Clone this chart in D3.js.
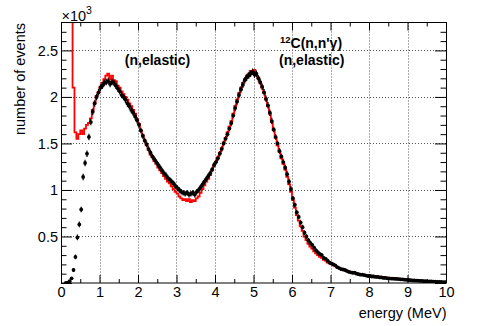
<!DOCTYPE html>
<html><head><meta charset="utf-8">
<script src="https://cdn.jsdelivr.net/npm/d3@7/dist/d3.min.js"></script>
<style>
html,body{margin:0;padding:0;background:#fff;}
svg{display:block;font-family:"Liberation Sans",Arial,Helvetica,sans-serif;}
</style></head>
<body>
<svg id="c" width="483" height="326"></svg>
<script>
// bin layout: 200 bins of 0.05 MeV from 0 to 10 MeV
const binWidth = 0.05;
const binStart = 0;
// data (black points, thousands of events)
const dataValues = [
 null,null,0.0,0.005,0.02,0.05,0.14,0.28,0.49,0.63,
 0.79,1.14,1.29,1.39,1.57,1.73,1.84,1.93,2.00,2.05,
 2.10,2.12,2.15,2.16,2.17,2.14,2.16,2.15,2.12,2.09,
 2.06,2.02,2.00,1.97,1.93,1.90,1.86,1.83,1.79,1.75,
 1.70,1.64,1.58,1.53,1.49,1.44,1.40,1.36,1.33,1.30,
 1.27,1.24,1.21,1.18,1.16,1.13,1.11,1.09,1.07,1.04,
 1.02,1.00,0.98,0.97,0.96,0.97,0.95,0.96,0.97,0.95,
 0.98,1.00,1.03,1.06,1.09,1.12,1.15,1.18,1.22,1.27,
 1.30,1.34,1.39,1.44,1.50,1.55,1.60,1.66,1.72,1.80,
 1.88,1.95,2.02,2.08,2.13,2.18,2.21,2.23,2.25,2.27,
 2.24,2.25,2.20,2.16,2.11,2.05,1.98,1.91,1.83,1.74,
 1.65,1.57,1.50,1.42,1.36,1.30,1.24,1.17,1.09,1.01,
 0.91,0.84,0.76,0.71,0.65,0.60,0.54,0.50,0.46,0.43,
 0.41,0.38,0.35,0.33,0.31,0.30,0.27,0.26,0.24,0.22,
 0.21,0.20,0.19,0.17,0.16,0.15,0.145,0.14,0.13,0.12,
 0.115,0.11,0.11,0.10,0.095,0.09,0.09,0.085,0.08,0.075,
 0.075,0.07,0.07,0.065,0.065,0.06,0.06,0.055,0.055,0.05,
 0.05,0.048,0.046,0.045,0.044,0.042,0.04,0.038,0.036,0.034,
 0.032,0.03,0.028,0.027,0.026,0.025,0.023,0.022,0.02,0.02,
 0.018,0.017,0.016,0.015,0.014,0.013,0.012,0.011,0.01,0.01
];
const dataErrors = [
 null,null,0.004,0.006,0.01,0.015,0.02,0.025,0.03,0.03,
 0.03,0.035,0.035,0.035,0.035,0.035,0.035,0.035,0.035,0.035,
 0.035,0.035,0.035,0.035,0.035,0.035,0.035,0.035,0.035,0.035,
 0.035,0.035,0.035,0.035,0.035,0.035,0.035,0.035,0.035,0.035,
 0.03,0.03,0.03,0.03,0.03,0.03,0.03,0.03,0.03,0.03,
 0.03,0.03,0.03,0.03,0.03,0.03,0.03,0.03,0.03,0.03,
 0.03,0.03,0.03,0.03,0.03,0.03,0.03,0.03,0.03,0.03,
 0.03,0.03,0.03,0.03,0.03,0.03,0.03,0.03,0.03,0.03,
 0.03,0.03,0.03,0.03,0.03,0.03,0.03,0.03,0.03,0.03,
 0.035,0.035,0.035,0.035,0.035,0.035,0.035,0.035,0.035,0.035,
 0.035,0.035,0.035,0.035,0.035,0.035,0.035,0.035,0.035,0.035,
 0.03,0.03,0.03,0.03,0.03,0.03,0.03,0.03,0.03,0.03,
 0.025,0.025,0.025,0.025,0.025,0.025,0.025,0.025,0.025,0.025,
 0.02,0.02,0.02,0.02,0.02,0.02,0.02,0.02,0.02,0.02,
 0.015,0.015,0.015,0.015,0.015,0.015,0.015,0.015,0.015,0.015,
 0.012,0.012,0.012,0.012,0.012,0.012,0.012,0.012,0.012,0.012,
 0.01,0.01,0.01,0.01,0.01,0.01,0.01,0.01,0.01,0.01,
 0.01,0.01,0.01,0.01,0.01,0.01,0.01,0.01,0.01,0.01,
 0.008,0.008,0.008,0.008,0.008,0.008,0.008,0.008,0.008,0.008,
 0.008,0.008,0.008,0.008,0.008,0.008,0.008,0.008,0.008,0.008
];
// simulation (red histogram, thousands of events)
const simValues = [
 null,null,null,null,null,4.0,2.1,1.62,1.55,1.60,
 1.64,1.60,1.66,1.70,1.72,1.77,1.86,1.94,2.01,2.05,
 2.11,2.15,2.19,2.23,2.25,2.19,2.23,2.18,2.17,2.12,
 2.10,2.06,2.03,2.00,1.97,1.93,1.90,1.86,1.82,1.76,
 1.71,1.64,1.59,1.53,1.48,1.43,1.38,1.35,1.31,1.28,
 1.24,1.21,1.18,1.15,1.12,1.09,1.07,1.04,1.01,0.98,
 0.96,0.93,0.91,0.89,0.90,0.88,0.90,0.87,0.89,0.88,
 0.91,0.93,0.97,1.01,1.05,1.09,1.12,1.16,1.21,1.26,
 1.30,1.35,1.40,1.45,1.51,1.56,1.62,1.68,1.74,1.82,
 1.90,1.97,2.04,2.10,2.15,2.19,2.23,2.25,2.28,2.26,
 2.29,2.23,2.21,2.15,2.10,2.04,1.97,1.90,1.82,1.73,
 1.64,1.56,1.48,1.41,1.34,1.28,1.22,1.14,1.06,0.98,
 0.89,0.81,0.73,0.67,0.61,0.56,0.50,0.46,0.42,0.39,
 0.37,0.34,0.32,0.30,0.28,0.27,0.25,0.24,0.22,0.21,
 0.20,0.19,0.18,0.17,0.16,0.15,0.145,0.14,0.13,0.125,
 0.12,0.115,0.11,0.105,0.10,0.095,0.095,0.09,0.085,0.082,
 0.08,0.078,0.075,0.072,0.07,0.068,0.066,0.063,0.06,0.058,
 0.056,0.054,0.052,0.05,0.048,0.046,0.044,0.042,0.040,0.038,
 0.036,0.034,0.032,0.030,0.028,0.027,0.025,0.024,0.022,0.021,
 0.02,0.018,0.017,0.016,0.015,0.014,0.013,0.012,0.011,0.010
];
const xDomain = [0, 10];
const yDomain = [0, 2.8];
const xMajorTicks = [0,1,2,3,4,5,6,7,8,9,10];
const xMinorTicks = [0.5,1.5,2.5,3.5,4.5,5.5,6.5,7.5,8.5,9.5];
const yMajorTicks = [0,0.5,1,1.5,2,2.5];
const yTickLabels = ["","0.5","1","1.5","2","2.5"];
const yMinorTicks = [0.1,0.2,0.3,0.4,0.6,0.7,0.8,0.9,1.1,1.2,1.3,1.4,1.6,1.7,1.8,1.9,2.1,2.2,2.3,2.4,2.6,2.7];
const xGrid = [1,2,3,4,5,6,7,8,9];
const yGrid = [0.5,1,1.5,2,2.5];
const xTitle = "energy (MeV)";
const yTitle = "number of events";

const svg = d3.select("#c");
const L=61, R=446, T=22.5, B=283;
const x = d3.scaleLinear().domain(xDomain).range([L,R]);
const y = d3.scaleLinear().domain(yDomain).range([B,T]);

svg.append("defs").append("clipPath").attr("id","clip")
  .append("rect").attr("x",L).attr("y",T).attr("width",R-L).attr("height",B-T);

// grid
const grid = svg.append("g").attr("stroke","#555").attr("stroke-width",1).attr("stroke-dasharray","1,2");
grid.selectAll("line.gx").data(xGrid).join("line")
  .attr("x1",d=>Math.round(x(d))+0.5).attr("x2",d=>Math.round(x(d))+0.5).attr("y1",T).attr("y2",B);
grid.selectAll("line.gy").data(yGrid).join("line")
  .attr("y1",d=>Math.round(y(d))+0.5).attr("y2",d=>Math.round(y(d))+0.5).attr("x1",L).attr("x2",R);

// red histogram
const simData = simValues.map((v,i)=>({x:binStart+binWidth*(i+0.5), v}));
const line = d3.line().defined(d=>d.v!=null).x(d=>x(d.x)).y(d=>y(d.v)).curve(d3.curveStep);
svg.append("path").datum(simData).attr("clip-path","url(#clip)")
  .attr("d",line).attr("fill","none").attr("stroke","#ff0000").attr("stroke-width",1.8);

// black points with error bars
const pts = dataValues.map((v,i)=>({x:binStart+binWidth*(i+0.5), v, e:dataErrors[i]})).filter(d=>d.v!=null);
const gp = svg.append("g").attr("clip-path","url(#clip)");
gp.selectAll("line.ev").data(pts).join("line")
  .attr("x1",d=>x(d.x)).attr("x2",d=>x(d.x))
  .attr("y1",d=>y(d.v-d.e)).attr("y2",d=>y(d.v+d.e))
  .attr("stroke","#000").attr("stroke-width",1.2);
gp.selectAll("line.eh").data(pts).join("line")
  .attr("x1",d=>x(d.x-binWidth/2)).attr("x2",d=>x(d.x+binWidth/2))
  .attr("y1",d=>y(d.v)).attr("y2",d=>y(d.v))
  .attr("stroke","#000").attr("stroke-width",1);
gp.selectAll("circle").data(pts).join("circle")
  .attr("cx",d=>x(d.x)).attr("cy",d=>y(d.v)).attr("r",1.9).attr("fill","#000");

// axes
function styleAxis(g){ g.select(".domain").remove(); g.selectAll(".tick line").attr("stroke","#000"); g.selectAll("text").attr("font-size",14.5).attr("fill","#000").attr("font-family","Liberation Sans, Arial, sans-serif"); }
svg.append("g").attr("transform",`translate(0,${B})`)
  .call(d3.axisBottom(x).tickValues(xMajorTicks).tickSize(-8).tickPadding(4).tickFormat(d3.format("d"))).call(styleAxis);
svg.append("g").attr("transform",`translate(0,${B})`)
  .call(d3.axisBottom(x).tickValues(xMinorTicks).tickSize(-4).tickFormat("")).call(styleAxis);
svg.append("g").attr("transform",`translate(0,${T})`)
  .call(d3.axisTop(x).tickValues(xMajorTicks).tickSize(-8).tickFormat("")).call(styleAxis);
svg.append("g").attr("transform",`translate(0,${T})`)
  .call(d3.axisTop(x).tickValues(xMinorTicks).tickSize(-4).tickFormat("")).call(styleAxis);
svg.append("g").attr("transform",`translate(${L},0)`)
  .call(d3.axisLeft(y).tickValues(yMajorTicks).tickSize(-11).tickPadding(3).tickFormat((d,i)=>yTickLabels[i])).call(styleAxis);
svg.append("g").attr("transform",`translate(${L},0)`)
  .call(d3.axisLeft(y).tickValues(yMinorTicks).tickSize(-5.5).tickFormat("")).call(styleAxis);
svg.append("g").attr("transform",`translate(${R},0)`)
  .call(d3.axisRight(y).tickValues(yMajorTicks).tickSize(-11).tickFormat("")).call(styleAxis);
svg.append("g").attr("transform",`translate(${R},0)`)
  .call(d3.axisRight(y).tickValues(yMinorTicks).tickSize(-5.5).tickFormat("")).call(styleAxis);

// frame
svg.append("rect").attr("x",L+0.5).attr("y",T).attr("width",R-L).attr("height",B-T)
  .attr("fill","none").attr("stroke","#000").attr("stroke-width",1);

// titles
svg.append("text").attr("x",446.5).attr("y",318).attr("text-anchor","end")
  .attr("font-size",14.5).text(xTitle);
svg.append("text").attr("transform","translate(25,23) rotate(-90)").attr("text-anchor","end")
  .attr("font-size",14.5).text(yTitle);
const mult = svg.append("text").attr("x",61.5).attr("y",20.5).attr("font-size",14.5);
mult.append("tspan").text("×10");
mult.append("tspan").attr("font-size",10.5).attr("dy",-7).text("3");

// annotations
svg.append("text").attr("x",157.5).attr("y",65).attr("text-anchor","middle")
  .attr("font-size",14).attr("font-weight","bold").text("(n,elastic)");
svg.append("text").attr("x",311.7).attr("y",65).attr("text-anchor","middle")
  .attr("font-size",14).attr("font-weight","bold").text("(n,elastic)");
const c12 = svg.append("text").attr("x",311).attr("y",48.3).attr("text-anchor","middle")
  .attr("font-size",14).attr("font-weight","bold");
c12.append("tspan").attr("font-size",9.5).attr("dy",-5.5).text("12");
c12.append("tspan").attr("dy",5.5).text("C(n,n'γ)");
</script>
</body></html>
